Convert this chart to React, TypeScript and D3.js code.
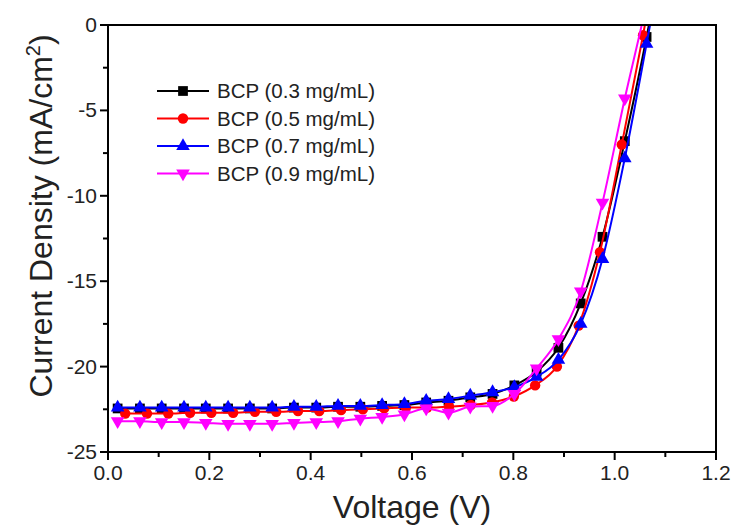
import React from "react";
import * as d3 from "d3";

// voltage grids (V)
const voltsA = [0.019, 0.063, 0.106, 0.15, 0.193, 0.237, 0.28, 0.324, 0.367, 0.411, 0.454, 0.498, 0.541, 0.585, 0.628, 0.672, 0.715, 0.759, 0.802, 0.846, 0.889, 0.933, 0.976, 1.02, 1.063, 1.107];
const voltsB = [0.034, 0.077, 0.119, 0.162, 0.204, 0.247, 0.29, 0.332, 0.375, 0.417, 0.46, 0.503, 0.545, 0.588, 0.63, 0.673, 0.716, 0.758, 0.801, 0.843, 0.886, 0.929, 0.971, 1.014, 1.056, 1.099];

// current density (mA/cm2)
const bcp03 = [-22.45, -22.45, -22.45, -22.45, -22.45, -22.45, -22.45, -22.45, -22.4, -22.4, -22.35, -22.35, -22.3, -22.25, -22.1, -22.0, -21.8, -21.6, -21.1, -20.3, -18.9, -16.3, -12.4, -6.8, -0.7, 6.5];
const bcp05 = [-22.75, -22.75, -22.75, -22.7, -22.7, -22.7, -22.65, -22.65, -22.6, -22.6, -22.55, -22.5, -22.45, -22.4, -22.4, -22.35, -22.25, -22.1, -21.75, -21.1, -20.0, -17.6, -13.3, -7.0, -0.6, 6.5];
const bcp07 = [-22.4, -22.4, -22.4, -22.4, -22.4, -22.4, -22.4, -22.4, -22.35, -22.35, -22.3, -22.3, -22.25, -22.2, -22.0, -21.9, -21.7, -21.5, -21.2, -20.6, -19.6, -17.5, -13.7, -7.8, -1.1, 6.0];
const bcp09 = [-23.2, -23.2, -23.25, -23.25, -23.3, -23.35, -23.35, -23.35, -23.3, -23.25, -23.2, -23.05, -22.95, -22.8, -22.45, -22.7, -22.35, -22.3, -21.6, -20.1, -18.4, -15.6, -10.4, -4.3, 1.3, 8.0];

const xTicks = [0, 0.2, 0.4, 0.6, 0.8, 1.0, 1.2];
const xMinor = [0.1, 0.3, 0.5, 0.7, 0.9, 1.1];
const yTicks = [0, -5, -10, -15, -20, -25];
const yMinor = [-2.5, -7.5, -12.5, -17.5, -22.5];

const series = [
  { label: "BCP (0.3 mg/mL)", color: "#000000", shape: d3.symbolSquare, size: 95, rot: 0, xs: voltsA, ys: bcp03 },
  { label: "BCP (0.5 mg/mL)", color: "#ff0000", shape: d3.symbolCircle, size: 85, rot: 0, xs: voltsB, ys: bcp05 },
  { label: "BCP (0.7 mg/mL)", color: "#0000ff", shape: d3.symbolTriangle, size: 80, rot: 0, xs: voltsA, ys: bcp07 },
  { label: "BCP (0.9 mg/mL)", color: "#ff00ff", shape: d3.symbolTriangle, size: 80, rot: 180, xs: voltsA, ys: bcp09 },
];

const W = 735;
const H = 527;
const m = { left: 108, right: 19, top: 25, bottom: 75 };
const font = "'Liberation Sans', Arial, sans-serif";

export default function App() {
  const x = d3.scaleLinear().domain([0, 1.2]).range([m.left, W - m.right]);
  const y = d3.scaleLinear().domain([-25, 0]).range([H - m.bottom, m.top]);
  const line = d3
    .line<[number, number]>()
    .x((d) => x(d[0]))
    .y((d) => y(d[1]))
    .curve(d3.curveMonotoneX);
  const x0 = m.left;
  const y0 = H - m.bottom;

  return (
    <svg width={W} height={H} style={{ position: "absolute", left: 0, top: 0, background: "#fff" }} fontFamily={font}>
      <defs>
        <clipPath id="plot">
          <rect x={x0} y={m.top} width={W - m.right - x0} height={y0 - m.top} />
        </clipPath>
      </defs>

      <g clipPath="url(#plot)">
        {series.map((s) => {
          const pts = s.xs.map((v, i) => [v, s.ys[i]] as [number, number]);
          const sym = d3.symbol().type(s.shape).size(s.size)();
          return (
            <g key={s.label}>
              <path d={line(pts) || ""} fill="none" stroke={s.color} strokeWidth={2} />
              {pts.map((p, i) => (
                <path
                  key={i}
                  d={sym || ""}
                  transform={`translate(${x(p[0])},${y(p[1])}) rotate(${s.rot})`}
                  fill={s.color}
                />
              ))}
            </g>
          );
        })}
      </g>

      {/* frame */}
      <rect x={x0} y={m.top} width={W - m.right - x0} height={y0 - m.top} fill="none" stroke="#000" strokeWidth={2} />

      {/* x axis */}
      {xTicks.map((t) => (
        <g key={t}>
          <line x1={x(t)} x2={x(t)} y1={y0} y2={y0 + 8} stroke="#000" strokeWidth={2} />
          <text x={x(t)} y={y0 + 28} fontSize={21} textAnchor="middle" fill="#222">
            {t.toFixed(1)}
          </text>
        </g>
      ))}
      {xMinor.map((t) => (
        <line key={t} x1={x(t)} x2={x(t)} y1={y0} y2={y0 + 5} stroke="#000" strokeWidth={2} />
      ))}

      {/* y axis */}
      {yTicks.map((t) => (
        <g key={t}>
          <line x1={x0 - 8} x2={x0} y1={y(t)} y2={y(t)} stroke="#000" strokeWidth={2} />
          <text x={x0 - 11} y={y(t) + 7} fontSize={21} textAnchor="end" fill="#222">
            {t}
          </text>
        </g>
      ))}
      {yMinor.map((t) => (
        <line key={t} x1={x0 - 5} x2={x0} y1={y(t)} y2={y(t)} stroke="#000" strokeWidth={2} />
      ))}

      {/* titles */}
      <text x={(x0 + W - m.right) / 2} y={H - 9} fontSize={32} textAnchor="middle" fill="#222">
        Voltage (V)
      </text>
      <text transform={`translate(52,216) rotate(-90)`} fontSize={32} textAnchor="middle" fill="#222">
        Current Density (mA/cm<tspan dy={-12} fontSize={20}>2</tspan>
        <tspan dy={12}>)</tspan>
      </text>

      {/* legend */}
      {series.map((s, i) => {
        const ly = 91 + i * 27.5;
        const sym = d3.symbol().type(s.shape).size(s.size)();
        return (
          <g key={s.label}>
            <line x1={157} x2={209} y1={ly} y2={ly} stroke={s.color} strokeWidth={2} />
            <path d={sym || ""} transform={`translate(183,${ly}) rotate(${s.rot})`} fill={s.color} />
            <text x={217} y={ly + 7} fontSize={20.5} fill="#222">
              {s.label}
            </text>
          </g>
        );
      })}
    </svg>
  );
}
